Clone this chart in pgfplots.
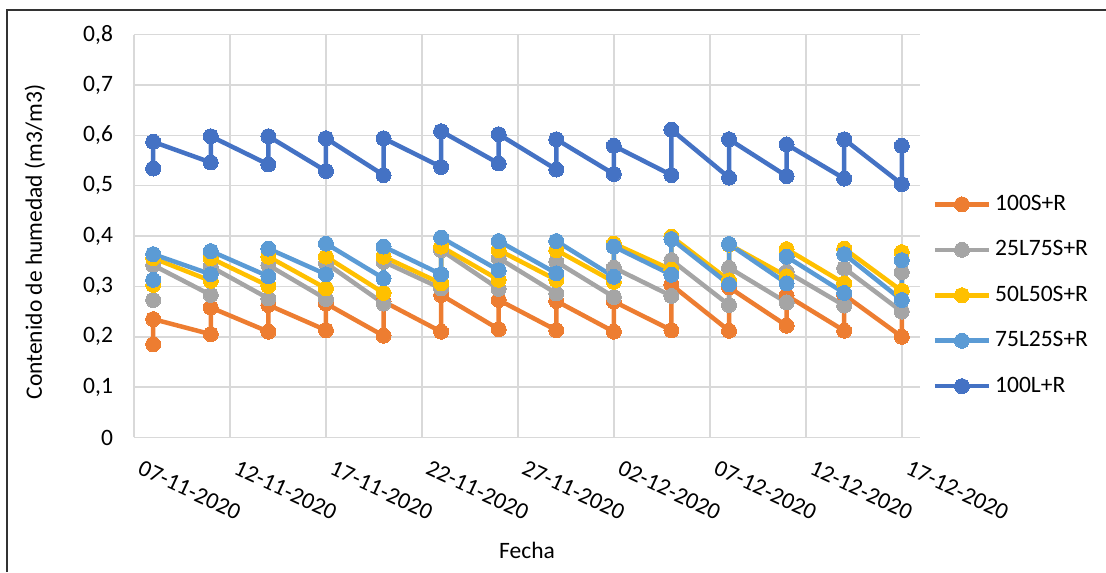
\documentclass[border=0pt]{standalone}
\usepackage{fontspec}
\setmainfont{Carlito}
\usepackage{pgfplots}
\pgfplotsset{compat=1.18}
\definecolor{cOr}{HTML}{ED7D31}
\definecolor{cGr}{HTML}{A5A5A5}
\definecolor{cYe}{HTML}{FFC000}
\definecolor{cLb}{HTML}{5B9BD5}
\definecolor{cDb}{HTML}{4472C4}
\definecolor{gridgray}{HTML}{D9D9D9}
\newcommand\cf{\fontsize{11.75}{14}\selectfont}
\begin{document}
\begin{tikzpicture}
\path[use as bounding box] (-67pt,-67.25pt) rectangle (486pt,218.75pt);
\draw[line width=1pt, black!80] (-63.5pt,-67.25pt) -- (-63.5pt,213.75pt) -- (486pt,213.75pt);
\begin{axis}[
  at={(0,0)}, anchor=south west, scale only axis,
  width=393pt, height=201.5pt,
  xmin=0, xmax=40.95, ymin=0, ymax=0.8,
  xtick={0,5,10,15,20,25,30,35,40},
  xticklabels={07-11-2020,12-11-2020,17-11-2020,22-11-2020,27-11-2020,02-12-2020,07-12-2020,12-12-2020,17-12-2020},
  ytick={0,0.1,0.2,0.3,0.4,0.5,0.6,0.7,0.8},
  /pgf/number format/fixed, /pgf/number format/precision=1,
  /pgf/number format/use comma, /pgf/number format/assume math mode=true,
  major tick length=0pt,
  axis line style={draw=none},
  grid=major, major grid style={draw=gridgray, line width=0.75pt},
  tick label style={font=\cf},
  yticklabel style={xshift=-7pt},
  xticklabel style={xshift=4.5pt, yshift=-11pt, rotate=-25, anchor=north west, inner sep=0pt},
  xlabel={Fecha}, ylabel={Contenido de humedad (m3/m3)},
  label style={font=\cf},
  xlabel style={at={(axis description cs:0.5,0)}, anchor=center, yshift=-56.5pt},
  ylabel style={at={(axis description cs:-0.126,0.485)}, anchor=center},
  legend style={at={(1.008,0.622)}, anchor=north west, draw=none, fill=none, font=\cf, row sep=9.6pt},
  legend cell align=left,
  legend image code/.code={\draw[mark repeat=2,mark phase=2,#1] plot coordinates {(0pt,0pt) (13.5pt,0pt) (27pt,0pt)};},
  every axis plot/.append style={line width=2.25pt, line join=round, mark=*, mark size=3.75pt},
]
\addplot[color=cOr, mark options={fill=cOr, draw=cOr, line width=0pt}] coordinates {
(1,0.185) (1,0.235) (4,0.205) (4,0.258) (7,0.210) (7,0.263) (10,0.213) (10,0.266)
(13,0.202) (13,0.270) (16,0.210) (16,0.283) (19,0.215) (19,0.273) (22,0.213) (22,0.271)
(25,0.210) (25,0.270) (28,0.213) (28,0.303) (31,0.212) (31,0.298) (34,0.222) (34,0.282)
(37,0.212) (37,0.283) (40,0.200) (40,0.250)};
\addlegendentry{100S+R}
\addplot[color=cGr, mark options={fill=cGr, draw=cGr, line width=0pt}] coordinates {
(1,0.273) (1,0.342) (4,0.283) (4,0.339) (7,0.276) (7,0.342) (10,0.275) (10,0.346)
(13,0.266) (13,0.349) (16,0.296) (16,0.372) (19,0.295) (19,0.356) (22,0.286) (22,0.349)
(25,0.279) (25,0.337) (28,0.281) (28,0.352) (31,0.263) (31,0.337) (34,0.268) (34,0.329)
(37,0.262) (37,0.336) (40,0.250) (40,0.328)};
\addlegendentry{25L75S+R}
\addplot[color=cYe, mark options={fill=cYe, draw=cYe, line width=0pt}] coordinates {
(1,0.303) (1,0.356) (4,0.311) (4,0.356) (7,0.301) (7,0.359) (10,0.296) (10,0.359)
(13,0.287) (13,0.359) (16,0.306) (16,0.379) (19,0.313) (19,0.372) (22,0.313) (22,0.372)
(25,0.309) (25,0.385) (28,0.333) (28,0.399) (31,0.312) (31,0.383) (34,0.320) (34,0.374)
(37,0.306) (37,0.375) (40,0.291) (40,0.368)};
\addlegendentry{50L50S+R}
\addplot[color=cLb, mark options={fill=cLb, draw=cLb, line width=0pt}] coordinates {
(1,0.313) (1,0.364) (4,0.324) (4,0.370) (7,0.320) (7,0.375) (10,0.324) (10,0.385)
(13,0.316) (13,0.379) (16,0.324) (16,0.397) (19,0.332) (19,0.390) (22,0.326) (22,0.390)
(25,0.319) (25,0.379) (28,0.323) (28,0.394) (31,0.304) (31,0.384) (34,0.306) (34,0.359)
(37,0.287) (37,0.364) (40,0.273) (40,0.352)};
\addlegendentry{75L25S+R}
\addplot[color=cDb, mark options={fill=cDb, draw=cDb, line width=0pt}] coordinates {
(1,0.534) (1,0.587) (4,0.546) (4,0.598) (7,0.542) (7,0.598) (10,0.529) (10,0.594)
(13,0.521) (13,0.594) (16,0.537) (16,0.608) (19,0.544) (19,0.602) (22,0.532) (22,0.592)
(25,0.523) (25,0.579) (28,0.521) (28,0.611) (31,0.516) (31,0.592) (34,0.519) (34,0.582)
(37,0.514) (37,0.592) (40,0.503) (40,0.579)};
\addlegendentry{100L+R}
\end{axis}
\end{tikzpicture}
\end{document}
